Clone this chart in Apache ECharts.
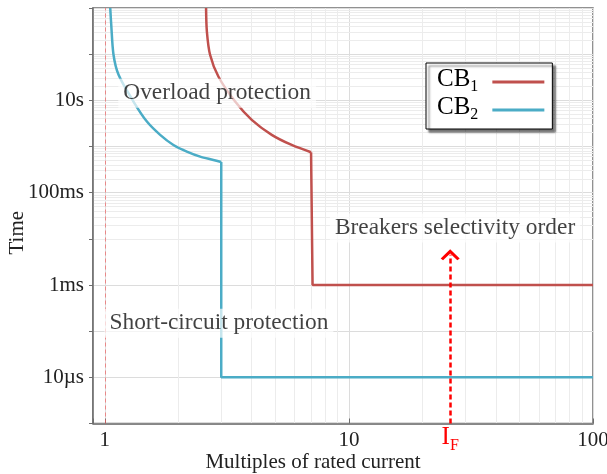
<!DOCTYPE html>
<html><head><meta charset="utf-8">
<script src="https://cdn.jsdelivr.net/npm/echarts@6/dist/echarts.min.js"></script>
<style>html,body{margin:0;padding:0;background:#fff}#c{width:607px;height:474px}</style>
</head><body><div id="c"></div><script>
const FONT = '"Liberation Serif", "Times New Roman", serif';

// ---- data ----
const cb1CurveX = [2.60, 2.62, 2.70, 2.92, 3.42, 4.0, 4.83, 5.83, 7.0];
const cb1CurveT = [1000, 310, 97, 32.8, 9.4, 3.78, 1.79, 1.08, 0.75];
const cb1StepX = [7.0, 7.1, 100];
const cb1StepT = [0.75, 1e-3, 1e-3];
const cb2CurveX = [1.053, 1.063, 1.086, 1.139, 1.311, 1.488, 1.686, 1.911, 2.169, 2.459, 2.786, 3.0];
const cb2CurveT = [1000, 434, 97, 35.7, 9.42, 3.47, 1.79, 1.08, 0.776, 0.604, 0.512, 0.46];
const cb2StepX = [3.0, 3.0, 100];
const cb2StepT = [0.46, 1e-5, 1e-5];
const seriesNames = ['CB1', 'CB2'];
const xTickValues = [1, 10, 100];
const xTickLabels = ['1', '10', '100'];
const yTickValues = [1e-5, 1e-3, 1e-1, 10];
const yTickLabels = ['10µs', '1ms', '100ms', '10s'];
const ratedCurrent = 1;
const faultCurrent = 26;
const faultArrowTop = 4.5e-3;
const minorMultipliers = [2, 3, 4, 5, 6, 7, 8, 9];
const xDecades = [1, 10];
const yDecades = [1e-6, 1e-5, 1e-4, 1e-3, 1e-2, 1e-1, 1, 10, 100];
const annotationTexts = ['Overload protection', 'Short-circuit protection', 'Breakers selectivity order'];
const annotationX = [1.136, 0.997, 8.36];
const annotationY = [14.2, 1.49e-4, 0.0171];

// ---- helpers ----
const zip = (xs, ys) => xs.map((x, i) => [x, ys[i]]);
const findLabel = (v, vals, labels) => {
  const lv = Math.log10(v);
  for (let i = 0; i < vals.length; i++) if (Math.abs(Math.log10(vals[i]) - lv) < 1e-6) return labels[i];
  return '';
};
const RED = '#c0504d', BLUE = '#4bacc6';

const minorLines = [];
xDecades.forEach(d => minorMultipliers.forEach(m => minorLines.push({ xAxis: d * m })));
yDecades.forEach(d => minorMultipliers.forEach(m => minorLines.push({ yAxis: d * m })));

const chart = echarts.init(document.getElementById('c'));
chart.setOption({
  animation: false,
  grid: { left: 93, right: 14, top: 8, bottom: 50.5, show: true, borderColor: '#6e6e6e', borderWidth: 1.5,
    backgroundColor: 'transparent', containLabel: false, outerBoundsMode: 'none' },
  legend: {
    data: seriesNames, z: 20,
    orient: 'vertical', left: 426, top: 63, align: 'right', icon: 'rect',
    itemWidth: 52, itemHeight: 3, itemGap: 0,
    padding: [4, 8, 6, 11],
    backgroundColor: '#fff', borderColor: '#000', borderWidth: 1,
    shadowColor: 'rgba(0,0,0,0.55)', shadowBlur: 2, shadowOffsetX: 3, shadowOffsetY: 3,
    formatter: n => '{m|CB}{s|' + n.slice(2) + '}{g|}',
    textStyle: {
      fontFamily: FONT, fontSize: 25, color: '#000',
      rich: {
        m: { fontFamily: FONT, fontSize: 25, color: '#000', lineHeight: 26, verticalAlign: 'bottom', padding: [0, 0, 3, 0] },
        s: { fontFamily: FONT, fontSize: 16, color: '#000', verticalAlign: 'bottom', lineHeight: 16 },
        g: { width: 9 } }
    }
  },
  xAxis: {
    type: 'log', logBase: 10, min: 0.895, max: 100,
    name: 'Multiples of rated current', nameLocation: 'middle', nameGap: 28, nameMoveOverlap: false,
    nameTextStyle: { fontFamily: FONT, fontSize: 21, color: '#222', padding: [0, 60, 0, 0] },
    axisLine: { show: true, lineStyle: { color: '#6e6e6e', width: 1.5 } },
    axisTick: { show: true, inside: true, length: 5, lineStyle: { color: '#6e6e6e' } },
    axisLabel: { fontFamily: FONT, fontSize: 21, color: '#222', margin: 6, showMinLabel: true, showMaxLabel: true,
      hideOverlap: false, formatter: v => findLabel(v, xTickValues, xTickLabels) },
    splitLine: { show: true, lineStyle: { color: '#dcdcdc', width: 1 } }
  },
  yAxis: {
    type: 'log', logBase: 10, min: 1e-6, max: 1000,
    name: 'Time', nameLocation: 'middle', nameGap: 65, nameRotate: 90, nameMoveOverlap: false,
    nameTextStyle: { fontFamily: FONT, fontSize: 21, color: '#222', padding: [0, 34, 0, 0] },
    axisLine: { show: true, lineStyle: { color: '#6e6e6e', width: 1.5 } },
    axisTick: { show: true, inside: false, length: 4, lineStyle: { color: '#6e6e6e' } },
    axisLabel: { fontFamily: FONT, fontSize: 21, color: '#222', margin: 9,
      formatter: v => findLabel(v, yTickValues, yTickLabels) },
    splitLine: { show: true, lineStyle: { color: '#dcdcdc', width: 1 } }
  },
  series: [
    { name: 'minorGrid', type: 'line', data: [], z: 0, silent: true,
      markLine: { z: 0, silent: true, symbol: 'none', label: { show: false }, animation: false,
        lineStyle: { color: '#ececec', width: 1, type: 'solid' }, data: minorLines } },
    { name: 'rated', type: 'line', data: [], z: 1, silent: true,
      markLine: { z: 1, silent: true, symbol: 'none', label: { show: false }, animation: false,
        lineStyle: { color: 'rgba(240,90,90,0.65)', width: 1, type: [4, 3] }, data: [{ xAxis: ratedCurrent }] } },
    { name: 'CB1', type: 'line', color: RED, data: zip(cb1CurveX, cb1CurveT), smooth: 0.3, showSymbol: false, z: 3,
      lineStyle: { width: 2.5, color: RED } },
    { name: 'CB1', type: 'line', color: RED, data: zip(cb1StepX, cb1StepT), showSymbol: false, z: 3,
      lineStyle: { width: 2.5, color: RED } },
    { name: 'CB2', type: 'line', color: BLUE, data: zip(cb2CurveX, cb2CurveT), smooth: 0.3, showSymbol: false, z: 3,
      lineStyle: { width: 2.5, color: BLUE } },
    { name: 'CB2', type: 'line', color: BLUE, data: zip(cb2StepX, cb2StepT), showSymbol: false, z: 3,
      lineStyle: { width: 2.5, color: BLUE } },
    { name: 'fault', type: 'line', data: [], z: 6, silent: true,
      markLine: { z: 6, silent: true, animation: false,
        lineStyle: { color: '#ff0000', width: 2.5, type: [5, 3] },
        label: { show: true, position: 'start', distance: 4, formatter: '{m|I}{s|F}', color: '#ff0000',
          rich: { m: { fontFamily: FONT, fontSize: 25, color: '#ff0000', lineHeight: 26, verticalAlign: 'bottom', padding: [0, 0, 4, 0] },
                  s: { fontFamily: FONT, fontSize: 16, color: '#ff0000', verticalAlign: 'bottom', lineHeight: 16 } } },
        data: [[{ coord: [faultCurrent, 1e-6], symbol: 'none' },
                { coord: [faultCurrent, faultArrowTop], symbol: 'path://M0,10 L10,0 L20,10 L17.5,12 L10,4.5 L2.5,12 Z', symbolSize: [19, 11] }]] } },
    { name: 'notes', type: 'scatter', symbolSize: 0, z: 8, silent: true,
      data: annotationTexts.map((t, i) => ({ value: [annotationX[i], annotationY[i]], label: { formatter: t } })),
      label: { show: true, position: 'right', distance: 0, fontFamily: FONT, fontSize: 23.4, color: '#111',
        backgroundColor: 'rgba(255,255,255,0.85)', padding: [3, 5, 3, 5] } }
  ]
});
</script></body></html>
